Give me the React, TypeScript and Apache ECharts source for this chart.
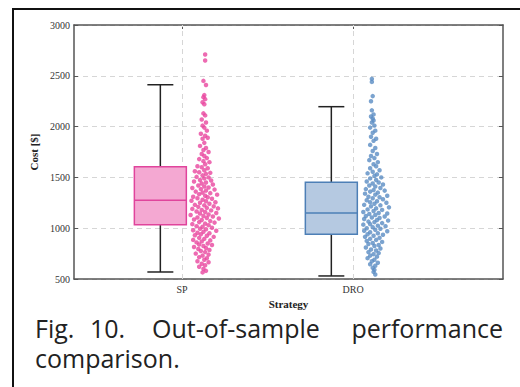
import React, { useEffect, useRef } from "react";
import * as echarts from "echarts";

const categories = ["SP", "DRO"];
const boxOffset = -0.127;
// [min, Q1, median, Q3, max]
const spBox = [569, 1034, 1275, 1605, 2412];
const droBox = [530, 940, 1150, 1452, 2196];
const yTicks = [500, 1000, 1500, 2000, 2500, 3000];

const spPoints: number[][] = [
  [0.135,2710],[0.135,2650],[0.125,2450],[0.14,2410],[0.13,2310],[0.125,2290],[0.135,2270],[0.12,2240],[0.13,2220],[0.125,2130],[0.135,2110],[0.115,2070],[0.14,2040],[0.12,2010],[0.13,1990],[0.145,1960],[0.11,1930],[0.135,1910],[0.15,1890],[0.12,1880],[0.13,1840],[0.105,1810],[0.14,1790],[0.125,1770],[0.155,1750],[0.115,1730],[0.13,1710],[0.145,1690],[0.10,1680],[0.125,1660],[0.16,1650],[0.135,1630],[0.09,1610],[0.115,1600],[0.15,1590],[0.13,1570],[0.075,1560],[0.10,1550],[0.165,1545],[0.14,1535],[0.12,1520],[0.085,1505],[0.155,1500],[0.13,1490],[0.105,1475],[0.17,1470],[0.07,1460],[0.14,1450],[0.115,1440],[0.18,1430],[0.095,1420],[0.13,1410],[0.155,1400],[0.06,1395],[0.11,1385],[0.19,1380],[0.14,1370],[0.08,1360],[0.12,1350],[0.165,1345],[0.10,1335],[0.205,1330],[0.135,1320],[0.065,1310],[0.15,1305],[0.09,1295],[0.175,1290],[0.12,1280],[0.055,1270],[0.14,1265],[0.195,1255],[0.105,1250],[0.16,1240],[0.075,1230],[0.13,1225],[0.185,1215],[0.095,1210],[0.145,1200],[0.21,1195],[0.06,1190],[0.115,1180],[0.17,1175],[0.085,1165],[0.135,1160],[0.2,1150],[0.105,1145],[0.155,1135],[0.05,1130],[0.125,1120],[0.18,1115],[0.09,1105],[0.145,1100],[0.215,1095],[0.07,1085],[0.115,1080],[0.165,1070],[0.1,1060],[0.19,1055],[0.135,1045],[0.06,1040],[0.155,1030],[0.085,1020],[0.12,1015],[0.175,1005],[0.105,995],[0.14,990],[0.065,980],[0.2,975],[0.125,965],[0.09,955],[0.16,950],[0.11,940],[0.075,930],[0.145,925],[0.185,915],[0.1,905],[0.13,895],[0.065,885],[0.165,880],[0.115,870],[0.085,860],[0.15,850],[0.1,840],[0.175,835],[0.125,825],[0.07,815],[0.14,805],[0.095,795],[0.16,785],[0.11,775],[0.135,765],[0.08,750],[0.155,740],[0.12,730],[0.1,715],[0.145,705],[0.13,690],[0.09,675],[0.155,665],[0.115,650],[0.135,635],[0.1,620],[0.125,600],[0.14,580],[0.12,565]
];

const droPoints: number[][] = [
  [1.11,2470],[1.11,2440],[1.115,2300],[1.105,2250],[1.11,2160],[1.12,2120],[1.105,2100],[1.115,2080],[1.12,2060],[1.11,2040],[1.125,2010],[1.1,1990],[1.13,1960],[1.115,1940],[1.105,1900],[1.135,1880],[1.12,1860],[1.1,1820],[1.13,1790],[1.115,1760],[1.14,1730],[1.105,1710],[1.125,1690],[1.095,1670],[1.145,1650],[1.12,1630],[1.135,1610],[1.1,1590],[1.155,1570],[1.115,1555],[1.085,1540],[1.14,1530],[1.125,1515],[1.165,1500],[1.1,1490],[1.135,1475],[1.08,1460],[1.15,1450],[1.115,1440],[1.175,1430],[1.095,1420],[1.13,1410],[1.16,1395],[1.075,1385],[1.12,1375],[1.185,1370],[1.1,1360],[1.145,1350],[1.07,1340],[1.13,1330],[1.2,1320],[1.09,1310],[1.155,1305],[1.115,1295],[1.175,1285],[1.08,1275],[1.14,1265],[1.1,1255],[1.195,1250],[1.125,1240],[1.065,1230],[1.16,1225],[1.105,1215],[1.21,1205],[1.135,1195],[1.085,1185],[1.17,1180],[1.12,1170],[1.06,1160],[1.15,1150],[1.2,1145],[1.095,1140],[1.13,1130],[1.075,1120],[1.185,1115],[1.11,1105],[1.155,1100],[1.065,1090],[1.14,1080],[1.205,1075],[1.09,1065],[1.125,1060],[1.17,1050],[1.1,1040],[1.06,1035],[1.145,1025],[1.19,1020],[1.115,1010],[1.08,1000],[1.16,995],[1.13,985],[1.065,975],[1.2,970],[1.1,960],[1.145,950],[1.085,940],[1.175,935],[1.12,925],[1.07,915],[1.155,905],[1.1,895],[1.135,885],[1.08,875],[1.17,865],[1.115,855],[1.09,845],[1.15,835],[1.125,825],[1.075,810],[1.16,800],[1.105,790],[1.135,780],[1.09,765],[1.15,755],[1.12,745],[1.1,730],[1.14,720],[1.085,705],[1.125,690],[1.11,675],[1.145,660],[1.1,645],[1.13,630],[1.115,610],[1.125,590],[1.12,570],[1.13,545]
];

const SERIF = "'Liberation Serif', 'Times New Roman', serif";
const CAP_FONT = "'Open Sans', 'Noto Sans', sans-serif";

export default function App() {
  const ref = useRef<HTMLDivElement>(null);
  useEffect(() => {
    document.body.style.margin = "0";
    if (!ref.current) return;
    const chart = echarts.init(ref.current, null, { renderer: "svg" });
    const boxes = [
      { x: 0 + boxOffset, v: spBox, fill: "#f4a8d2", stroke: "#e0449c" },
      { x: 1 + boxOffset, v: droBox, fill: "#b5c9e1", stroke: "#4d7fb6" },
    ];
    const boxData = boxes.map((b) => [b.x, ...b.v]);
    const axisLineStyle = { color: "#555", width: 1.5 };
    const tickStyle = { color: "#555" };
    const capStyle = (text: string) => ({ text, font: `25px ${CAP_FONT}`, fill: "#222", lineHeight: 25 });
    chart.setOption({
      animation: false,
      grid: { left: 74, right: 17, top: 25, bottom: 108 },
      xAxis: [
        {
          type: "value",
          min: -0.632,
          max: 1.877,
          name: "Strategy",
          nameLocation: "middle",
          nameGap: 18,
          nameTextStyle: { fontFamily: SERIF, fontWeight: "bold", fontSize: 11, color: "#222" },
          axisLine: { show: true, onZero: false, lineStyle: axisLineStyle },
          axisTick: { show: true, inside: true, length: 4, customValues: [0, 1], lineStyle: tickStyle },
          axisLabel: {
            customValues: [0, 1],
            formatter: (v: number) => categories[Math.round(v)] ?? "",
            fontFamily: SERIF,
            fontSize: 10,
            color: "#333",
            margin: 5,
          },
          splitLine: { show: false },
        },
        {
          type: "value",
          position: "top",
          min: -0.632,
          max: 1.877,
          axisLine: { show: true, onZero: false, lineStyle: axisLineStyle },
          axisTick: { show: true, inside: true, length: 4, customValues: [0, 1], lineStyle: tickStyle },
          axisLabel: { show: false },
          splitLine: { show: false },
        },
      ],
      yAxis: [
        {
          type: "value",
          min: yTicks[0],
          max: yTicks[yTicks.length - 1],
          interval: 500,
          name: "Cost [$]",
          nameLocation: "middle",
          nameGap: 27,
          nameTextStyle: { fontFamily: SERIF, fontWeight: "bold", fontSize: 11, color: "#222" },
          axisLine: { show: true, onZero: false, lineStyle: axisLineStyle },
          axisTick: { show: true, inside: true, length: 4, lineStyle: tickStyle },
          axisLabel: { fontFamily: SERIF, fontSize: 10, color: "#333", margin: 4, formatter: (v: number) => String(v) },
          splitLine: { show: true, lineStyle: { color: "#d6d6d6", type: [5, 4], width: 1 } },
        },
        {
          type: "value",
          position: "right",
          min: yTicks[0],
          max: yTicks[yTicks.length - 1],
          interval: 500,
          axisLine: { show: true, onZero: false, lineStyle: axisLineStyle },
          axisTick: { show: true, inside: true, length: 4, lineStyle: tickStyle },
          axisLabel: { show: false },
          splitLine: { show: false },
        },
      ],
      series: [
        {
          type: "custom",
          xAxisIndex: 0,
          yAxisIndex: 0,
          data: boxData,
          z: 3,
          renderItem: (params: any, api: any) => {
            const i = params.dataIndex;
            const b = boxes[i];
            const x = api.value(0);
            const pMin = api.coord([x, api.value(1)]);
            const pQ1 = api.coord([x, api.value(2)]);
            const pMed = api.coord([x, api.value(3)]);
            const pQ3 = api.coord([x, api.value(4)]);
            const pMax = api.coord([x, api.value(5)]);
            const w = api.size([0.304, 0])[0];
            const cw = w / 2;
            const cx = pMin[0];
            const lineStyle = { stroke: "#222", lineWidth: 1.5 };
            return {
              type: "group",
              children: [
                { type: "line", shape: { x1: cx, y1: pQ3[1], x2: cx, y2: pMax[1] }, style: lineStyle },
                { type: "line", shape: { x1: cx - cw / 2, y1: pMax[1], x2: cx + cw / 2, y2: pMax[1] }, style: lineStyle },
                { type: "line", shape: { x1: cx, y1: pQ1[1], x2: cx, y2: pMin[1] }, style: lineStyle },
                { type: "line", shape: { x1: cx - cw / 2, y1: pMin[1], x2: cx + cw / 2, y2: pMin[1] }, style: lineStyle },
                {
                  type: "rect",
                  shape: { x: cx - w / 2, y: pQ3[1], width: w, height: pQ1[1] - pQ3[1] },
                  style: { fill: b.fill, stroke: b.stroke, lineWidth: 1.5 },
                },
                { type: "line", shape: { x1: cx - w / 2, y1: pMed[1], x2: cx + w / 2, y2: pMed[1] }, style: { stroke: b.stroke, lineWidth: 1.5 } },
              ],
            };
          },
          markLine: {
            silent: true,
            symbol: "none",
            label: { show: false },
            lineStyle: { color: "#d6d6d6", type: [5, 4], width: 1 },
            data: [{ xAxis: 0 }, { xAxis: 1 }],
            z: 1,
          },
        },
        {
          type: "scatter",
          data: spPoints,
          symbolSize: 4.5,
          itemStyle: { color: "#e8469f", opacity: 0.8 },
          z: 4,
        },
        {
          type: "scatter",
          data: droPoints,
          symbolSize: 4.5,
          itemStyle: { color: "#5a8cc3", opacity: 0.8 },
          z: 4,
        },
      ],
      graphic: [
        {
          type: "polyline",
          shape: { points: [[522, 9], [13, 9], [13, 390]] },
          style: { stroke: "#111", lineWidth: 2, fill: "none" },
          z: 10,
        },
        { type: "text", left: 35, top: 315, style: capStyle("Fig.") },
        { type: "text", left: 90, top: 315, style: capStyle("10.") },
        { type: "text", left: 152, top: 315, style: capStyle("Out-of-sample") },
        { type: "text", right: 17, top: 315, style: capStyle("performance") },
        { type: "text", left: 35, top: 345, style: capStyle("comparison.") },
      ],
    });
    return () => chart.dispose();
  }, []);
  return <div ref={ref} style={{ width: 520, height: 387 }} />;
}
